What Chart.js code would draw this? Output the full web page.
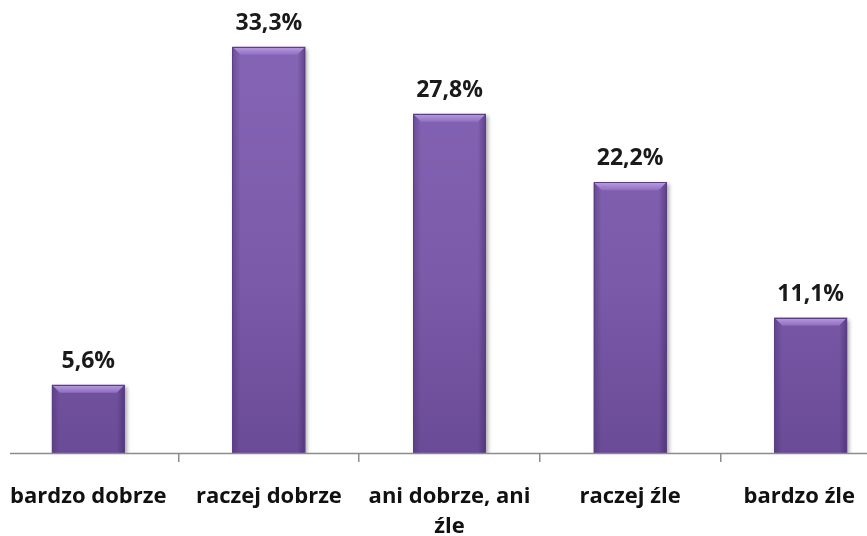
<!DOCTYPE html>
<html>
<head>
<meta charset="utf-8">
<script src="https://cdn.jsdelivr.net/npm/chart.js"></script>
<style>
    html, body { margin: 0; padding: 0; background: #fff; overflow: hidden; }
    #wrap { position: relative; width: 867px; height: 536px; overflow: hidden; }
    #myChart { position: absolute; left: -2px; top: 0; }
</style>
</head>
<body>
<div id="wrap">
    <canvas id="myChart" width="903" height="536"></canvas>
</div>
<script>
// 카테고리와 값
const categories = ['bardzo dobrze', 'raczej dobrze', ['ani dobrze, ani', 'źle'], 'raczej źle', 'bardzo źle    '];
const values = [5.6, 33.3, 27.8, 22.2, 11.1];
const valueLabels = ['5,6%', '33,3%', '27,8%', '22,2%', '11,1%'];

const FONT = '"Open Sans", "Noto Sans", sans-serif';

// 막대 채우기 그라디언트
const barFill = (context) => {
    const { chart } = context;
    const area = chart.chartArea;
    if (!area) return '#7a5aa8';
    const g = chart.ctx.createLinearGradient(0, area.top, 0, area.bottom);
    g.addColorStop(0, '#8565b5');
    g.addColorStop(0.6, '#7a5aa9');
    g.addColorStop(1, '#6a4b97');
    return g;
};

// 그림자
const shadowPlugin = {
    id: 'barShadow',
    beforeDatasetsDraw(chart) {
        const ctx = chart.ctx;
        ctx.save();
        ctx.shadowColor = 'rgba(0, 0, 0, 0.35)';
        ctx.shadowBlur = 4;
        ctx.shadowOffsetX = 2;
        ctx.shadowOffsetY = 2;
    },
    afterDatasetsDraw(chart) {
        chart.ctx.restore();
    },
};

// 베벨 효과, 값 라벨, 축 선
const decoPlugin = {
    id: 'barDeco',
    afterDatasetsDraw(chart) {
        const ctx = chart.ctx;
        const meta = chart.getDatasetMeta(0);
        const b = 8;
        ctx.save();
        meta.data.forEach((bar, i) => {
            const left = bar.x - bar.width / 2;
            const right = bar.x + bar.width / 2;
            const top = bar.y;
            const bottom = bar.base;

            // 윗면 밝은 경사
            const tg = ctx.createLinearGradient(0, top, 0, top + b);
            tg.addColorStop(0, '#bb9de3');
            tg.addColorStop(1, '#8f6fbf');
            ctx.fillStyle = tg;
            ctx.beginPath();
            ctx.moveTo(left, top);
            ctx.lineTo(right, top);
            ctx.lineTo(right - b, top + b);
            ctx.lineTo(left + b, top + b);
            ctx.closePath();
            ctx.fill();

            // 왼쪽 경사
            const lg = ctx.createLinearGradient(left, 0, left + b, 0);
            lg.addColorStop(0, 'rgba(60, 35, 95, 0.35)');
            lg.addColorStop(1, 'rgba(60, 35, 95, 0)');
            ctx.fillStyle = lg;
            ctx.beginPath();
            ctx.moveTo(left, top);
            ctx.lineTo(left + b, top + b);
            ctx.lineTo(left + b, bottom);
            ctx.lineTo(left, bottom);
            ctx.closePath();
            ctx.fill();

            // 오른쪽 경사
            const rg = ctx.createLinearGradient(right - b, 0, right, 0);
            rg.addColorStop(0, 'rgba(50, 28, 85, 0)');
            rg.addColorStop(1, 'rgba(50, 28, 85, 0.45)');
            ctx.fillStyle = rg;
            ctx.beginPath();
            ctx.moveTo(right, top);
            ctx.lineTo(right - b, top + b);
            ctx.lineTo(right - b, bottom);
            ctx.lineTo(right, bottom);
            ctx.closePath();
            ctx.fill();

            // 테두리
            ctx.strokeStyle = '#5b3f85';
            ctx.lineWidth = 1;
            ctx.strokeRect(Math.round(left) + 0.5, Math.round(top) + 0.5,
                Math.round(right - left) - 1, Math.round(bottom - top));

            // 값 라벨
            ctx.fillStyle = '#1a1a1a';
            ctx.font = 'bold 23px ' + FONT;
            ctx.textAlign = 'center';
            ctx.textBaseline = 'alphabetic';
            ctx.fillText(valueLabels[i], bar.x, top - 17);
        });

        // x축 선
        const area = chart.chartArea;
        ctx.strokeStyle = '#8c8c8c';
        ctx.lineWidth = 1.5;
        ctx.beginPath();
        ctx.moveTo(12, area.bottom + 0.5);
        ctx.lineTo(chart.width, area.bottom + 0.5);
        ctx.stroke();
        ctx.restore();
    },
};

const ctx = document.getElementById('myChart').getContext('2d');
new Chart(ctx, {
    type: 'bar',
    data: {
        labels: categories,
        datasets: [{
            data: values,
            backgroundColor: barFill,
            borderWidth: 0,
            barPercentage: 0.404,
            categoryPercentage: 1,
        }],
    },
    options: {
        responsive: false,
        animation: false,
        layout: { padding: { top: 26, left: 0, right: 0, bottom: 0 } },
        plugins: {
            legend: { display: false },
            tooltip: { enabled: false },
        },
        scales: {
            x: {
                offset: true,
                border: { display: false },
                grid: {
                    offset: true,
                    drawOnChartArea: false,
                    drawTicks: true,
                    tickLength: 9,
                    color: '#8c8c8c',
                    lineWidth: 1.5,
                },
                ticks: {
                    color: '#111',
                    padding: 19,
                    maxRotation: 0,
                    autoSkip: false,
                    font: { family: FONT, size: 22, weight: 'bold', lineHeight: 1.4 },
                },
                // 축 높이와 좌우 여백 고정
                afterFit(scale) {
                    scale.height = 83;
                    scale.paddingLeft = 0;
                    scale.paddingRight = 0;
                },
            },
            y: {
                display: false,
                min: 0,
                max: 35,
            },
        },
    },
    plugins: [shadowPlugin, decoPlugin],
});
</script>
</body>
</html>
